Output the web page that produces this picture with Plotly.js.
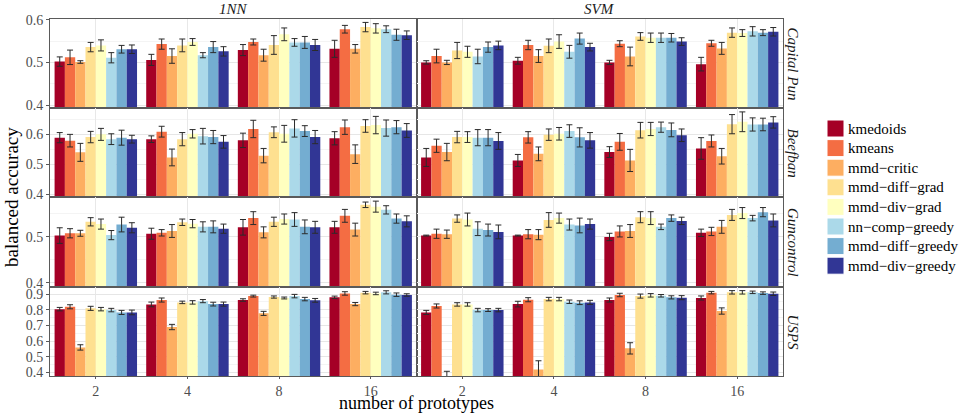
<!DOCTYPE html>
<html><head><meta charset="utf-8">
<script src="https://cdn.plot.ly/plotly-3.0.1.min.js"></script>
<style>html,body{margin:0;padding:0;background:#fff}#chart{width:970px;height:414px}</style>
</head><body><div id="chart"></div>
<script>
const kLabels = ['2','4','8','16'];
const methods = ['kmedoids','kmeans','mmd\u2212critic','mmd\u2212diff\u2212grad','mmd\u2212div\u2212grad','nn\u2212comp\u2212greedy','mmd\u2212diff\u2212greedy','mmd\u2212div\u2212greedy'];
const colors = ['#a50026','#f46d43','#fdae61','#fee090','#ffffbf','#abd9e9','#74add1','#313695'];
const datasets = ['Capital Pun','Beefban','Guncontrol','USPS'];
const classifiers = ['1NN','SVM'];

// values: one row per method, columns = k (2,4,8,16)
const capitalPun1NN = [
  [0.502,0.506,0.529,0.532],[0.512,0.543,0.548,0.578],[0.501,0.515,0.517,0.532],[0.536,0.540,0.541,0.583],
  [0.540,0.548,0.566,0.580],[0.511,0.517,0.547,0.578],[0.531,0.536,0.547,0.565],[0.531,0.526,0.541,0.564]];
const capitalPun1NNErr = [
  [0.011,0.013,0.013,0.020],[0.017,0.012,0.007,0.009],[0.003,0.017,0.014,0.010],[0.011,0.015,0.022,0.011],
  [0.013,0.008,0.015,0.011],[0.012,0.006,0.009,0.008],[0.009,0.013,0.014,0.013],[0.010,0.011,0.013,0.010]];
const capitalPunSVM = [
  [0.500,0.504,0.500,0.496],[0.515,0.541,0.544,0.545],[0.500,0.515,0.514,0.533],[0.528,0.539,0.561,0.570],
  [0.525,0.549,0.558,0.569],[0.514,0.525,0.558,0.573],[0.536,0.556,0.558,0.570],[0.540,0.536,0.549,0.572]];
const capitalPunSVMErr = [
  [0.004,0.008,0.005,0.016],[0.016,0.011,0.007,0.007],[0.005,0.015,0.022,0.014],[0.019,0.016,0.009,0.011],
  [0.013,0.016,0.011,0.008],[0.017,0.015,0.011,0.011],[0.012,0.013,0.010,0.007],[0.010,0.009,0.009,0.010]];
const beefban1NN = [
  [0.588,0.583,0.579,0.586],[0.578,0.608,0.617,0.623],[0.539,0.522,0.528,0.533],[0.590,0.583,0.606,0.627],
  [0.599,0.601,0.601,0.630],[0.583,0.593,0.619,0.620],[0.588,0.590,0.610,0.623],[0.583,0.574,0.590,0.612]];
const beefban1NNErr = [
  [0.017,0.011,0.024,0.022],[0.021,0.018,0.029,0.024],[0.030,0.028,0.024,0.031],[0.019,0.022,0.018,0.021],
  [0.020,0.014,0.028,0.029],[0.018,0.026,0.029,0.027],[0.025,0.022,0.018,0.022],[0.013,0.021,0.022,0.023]];
const beefbanSVM = [
  [0.522,0.512,0.540,0.552],[0.561,0.589,0.574,0.577],[0.540,0.534,0.512,0.526],[0.590,0.598,0.613,0.633],
  [0.590,0.601,0.617,0.641],[0.588,0.610,0.623,0.632],[0.588,0.589,0.614,0.632],[0.577,0.579,0.596,0.639]];
const beefbanSVMErr = [
  [0.030,0.020,0.018,0.036],[0.022,0.019,0.028,0.020],[0.029,0.023,0.037,0.026],[0.019,0.019,0.026,0.032],
  [0.018,0.021,0.022,0.033],[0.027,0.021,0.017,0.022],[0.027,0.032,0.023,0.021],[0.028,0.026,0.021,0.019]];
const guncontrol1NN = [
  [0.503,0.507,0.521,0.521],[0.508,0.509,0.541,0.546],[0.508,0.513,0.510,0.516],[0.533,0.532,0.533,0.570],
  [0.528,0.529,0.539,0.566],[0.504,0.522,0.538,0.559],[0.527,0.522,0.522,0.540],[0.520,0.518,0.521,0.534]];
const guncontrol1NNErr = [
  [0.017,0.012,0.017,0.013],[0.010,0.007,0.014,0.014],[0.0065,0.014,0.012,0.014],[0.009,0.007,0.010,0.006],
  [0.011,0.009,0.011,0.012],[0.010,0.011,0.015,0.009],[0.016,0.013,0.015,0.010],[0.011,0.010,0.013,0.012]];
const guncontrolSVM = [
  [0.503,0.503,0.500,0.509],[0.507,0.506,0.512,0.512],[0.506,0.505,0.513,0.522],[0.540,0.537,0.543,0.548],
  [0.538,0.541,0.541,0.552],[0.518,0.527,0.522,0.541],[0.515,0.525,0.541,0.554],[0.511,0.528,0.535,0.536]];
const guncontrolSVMErr = [
  [0.001,0.001,0.008,0.008],[0.010,0.010,0.012,0.009],[0.009,0.011,0.014,0.014],[0.008,0.016,0.012,0.012],
  [0.014,0.011,0.014,0.012],[0.015,0.012,0.006,0.006],[0.013,0.016,0.007,0.010],[0.015,0.011,0.008,0.014]];
const usps1NN = [
  [0.804,0.834,0.862,0.879],[0.819,0.862,0.887,0.904],[0.560,0.690,0.777,0.836],[0.809,0.847,0.881,0.909],
  [0.804,0.847,0.875,0.904],[0.798,0.855,0.887,0.911],[0.783,0.836,0.868,0.896],[0.783,0.836,0.860,0.894]];
const usps1NNErr = [
  [0.011,0.015,0.008,0.008],[0.013,0.013,0.006,0.011],[0.017,0.017,0.013,0.010],[0.013,0.008,0.007,0.008],
  [0.011,0.011,0.006,0.008],[0.011,0.010,0.011,0.010],[0.013,0.012,0.011,0.011],[0.015,0.013,0.012,0.008]];
const uspsSVM = [
  [0.783,0.836,0.862,0.875],[0.824,0.864,0.894,0.909],[0.375,0.420,0.554,0.792],[0.834,0.868,0.887,0.911],
  [0.834,0.868,0.892,0.911],[0.798,0.851,0.889,0.911],[0.798,0.845,0.879,0.906],[0.798,0.847,0.877,0.902]];
const uspsSVMErr = [
  [0.013,0.018,0.013,0.013],[0.013,0.013,0.011,0.008],[0.033,0.055,0.036,0.020],[0.011,0.011,0.013,0.011],
  [0.011,0.011,0.011,0.011],[0.011,0.011,0.008,0.008],[0.009,0.012,0.010,0.008],[0.011,0.013,0.013,0.011]];

const panelValues = [[capitalPun1NN, capitalPunSVM],[beefban1NN, beefbanSVM],[guncontrol1NN, guncontrolSVM],[usps1NN, uspsSVM]];
const panelErrors = [[capitalPun1NNErr, capitalPunSVMErr],[beefban1NNErr, beefbanSVMErr],[guncontrol1NNErr, guncontrolSVMErr],[usps1NNErr, uspsSVMErr]];

// ---------- layout geometry (pixels) ----------
const W = 970, H = 414;
const colPx = [[50, 416.5], [416.5, 783]];
const rowPx = [[19, 108], [108, 197], [197, 287], [287, 376]];
const yRanges = [[0.393, 0.602], [0.39, 0.687], [0.391, 0.587], [0.378, 0.945]];
const FONT = '"Liberation Serif", "Times New Roman", serif';
const px2x = p => p / W;
const px2y = p => 1 - p / H;

const traces = [];
const layout = {
  width: W, height: H,
  margin: {l: 0, r: 0, t: 0, b: 0},
  paper_bgcolor: '#ffffff', plot_bgcolor: '#ffffff',
  barmode: 'group', bargap: 0.1, bargroupgap: 0,
  showlegend: false,
  font: {family: FONT, color: '#4d4d4d'},
  annotations: [], shapes: []
};

for (let r = 0; r < 4; r++) {
  for (let c = 0; c < 2; c++) {
    const p = r * 2 + c;
    const suf = p === 0 ? '' : String(p + 1);
    for (let m = 0; m < methods.length; m++) {
      traces.push({
        type: 'bar', name: methods[m],
        x: kLabels, y: panelValues[r][c][m],
        error_y: {type: 'data', array: panelErrors[r][c][m], visible: true, color: '#2b2b2b', thickness: 1, width: 3},
        marker: {color: colors[m], line: {width: 0}},
        xaxis: 'x' + suf, yaxis: 'y' + suf,
        showlegend: false, hoverinfo: 'x+y+name'
      });
    }
    layout['xaxis' + suf] = {
      domain: [px2x(colPx[c][0]), px2x(colPx[c][1])],
      anchor: 'y' + suf,
      type: 'category', categoryorder: 'array', categoryarray: kLabels,
      range: [-0.5, 3.5],
      showgrid: true, gridcolor: '#e8e8e8', gridwidth: 1,
      showline: true, mirror: true, linecolor: '#5a5a5a', linewidth: 1,
      zeroline: false,
      showticklabels: r === 3,
      ticks: r === 3 ? 'outside' : '', ticklen: 2, tickcolor: '#5a5a5a',
      tickfont: {family: FONT, size: 14, color: '#4d4d4d'},
      fixedrange: true
    };
    layout['yaxis' + suf] = {
      domain: [px2y(rowPx[r][1]), px2y(rowPx[r][0])],
      anchor: 'x' + suf,
      range: yRanges[r],
      tickmode: 'linear', tick0: 0, dtick: 0.1, tickformat: '.1f',
      showgrid: true, gridcolor: '#e6e6e6', gridwidth: 1,
      minor: {dtick: 0.05, tick0: 0, showgrid: true, gridcolor: '#f4f4f4', gridwidth: 1},
      showline: true, mirror: true, linecolor: '#5a5a5a', linewidth: 1,
      zeroline: false,
      showticklabels: c === 0,
      ticks: c === 0 ? 'outside' : '', ticklen: 3, tickcolor: '#5a5a5a',
      tickfont: {family: FONT, size: 14, color: '#4d4d4d'},
      fixedrange: true
    };
  }
}

// strip labels (top)
for (let c = 0; c < 2; c++) {
  layout.annotations.push({
    xref: 'paper', yref: 'paper',
    x: px2x((colPx[c][0] + colPx[c][1]) / 2), y: px2y(9),
    text: '<i>' + classifiers[c] + '</i>', showarrow: false,
    font: {family: FONT, size: 15, color: '#1a1a1a'}, xanchor: 'center', yanchor: 'middle'
  });
}
// strip labels (right)
for (let r = 0; r < 4; r++) {
  layout.annotations.push({
    xref: 'paper', yref: 'paper',
    x: px2x(793), y: px2y((rowPx[r][0] + rowPx[r][1]) / 2),
    text: '<i>' + datasets[r] + '</i>', showarrow: false, textangle: 90,
    font: {family: FONT, size: 15, color: '#1a1a1a'}, xanchor: 'center', yanchor: 'middle'
  });
}
// axis titles
layout.annotations.push({
  xref: 'paper', yref: 'paper', x: px2x(416.5), y: px2y(403),
  text: 'number of prototypes', showarrow: false,
  font: {family: FONT, size: 18, color: '#000'}, xanchor: 'center', yanchor: 'middle'
});
layout.annotations.push({
  xref: 'paper', yref: 'paper', x: px2x(11), y: px2y(197),
  text: 'balanced accuracy', showarrow: false, textangle: -90,
  font: {family: FONT, size: 19, color: '#000'}, xanchor: 'center', yanchor: 'middle'
});
// legend (built from methods/colors)
for (let m = 0; m < methods.length; m++) {
  const top = 120 + m * 19.6;
  layout.shapes.push({
    type: 'rect', xref: 'paper', yref: 'paper',
    x0: px2x(827), x1: px2x(844), y0: px2y(top + 17), y1: px2y(top),
    fillcolor: colors[m], line: {width: 1, color: '#ffffff'}
  });
  layout.annotations.push({
    xref: 'paper', yref: 'paper', x: px2x(846), y: px2y(top + 8.5),
    text: methods[m], showarrow: false,
    font: {family: FONT, size: 15, color: '#000'}, xanchor: 'left', yanchor: 'middle'
  });
}

Plotly.newPlot('chart', traces, layout, {displayModeBar: false, staticPlot: true});
</script>
</body></html>
